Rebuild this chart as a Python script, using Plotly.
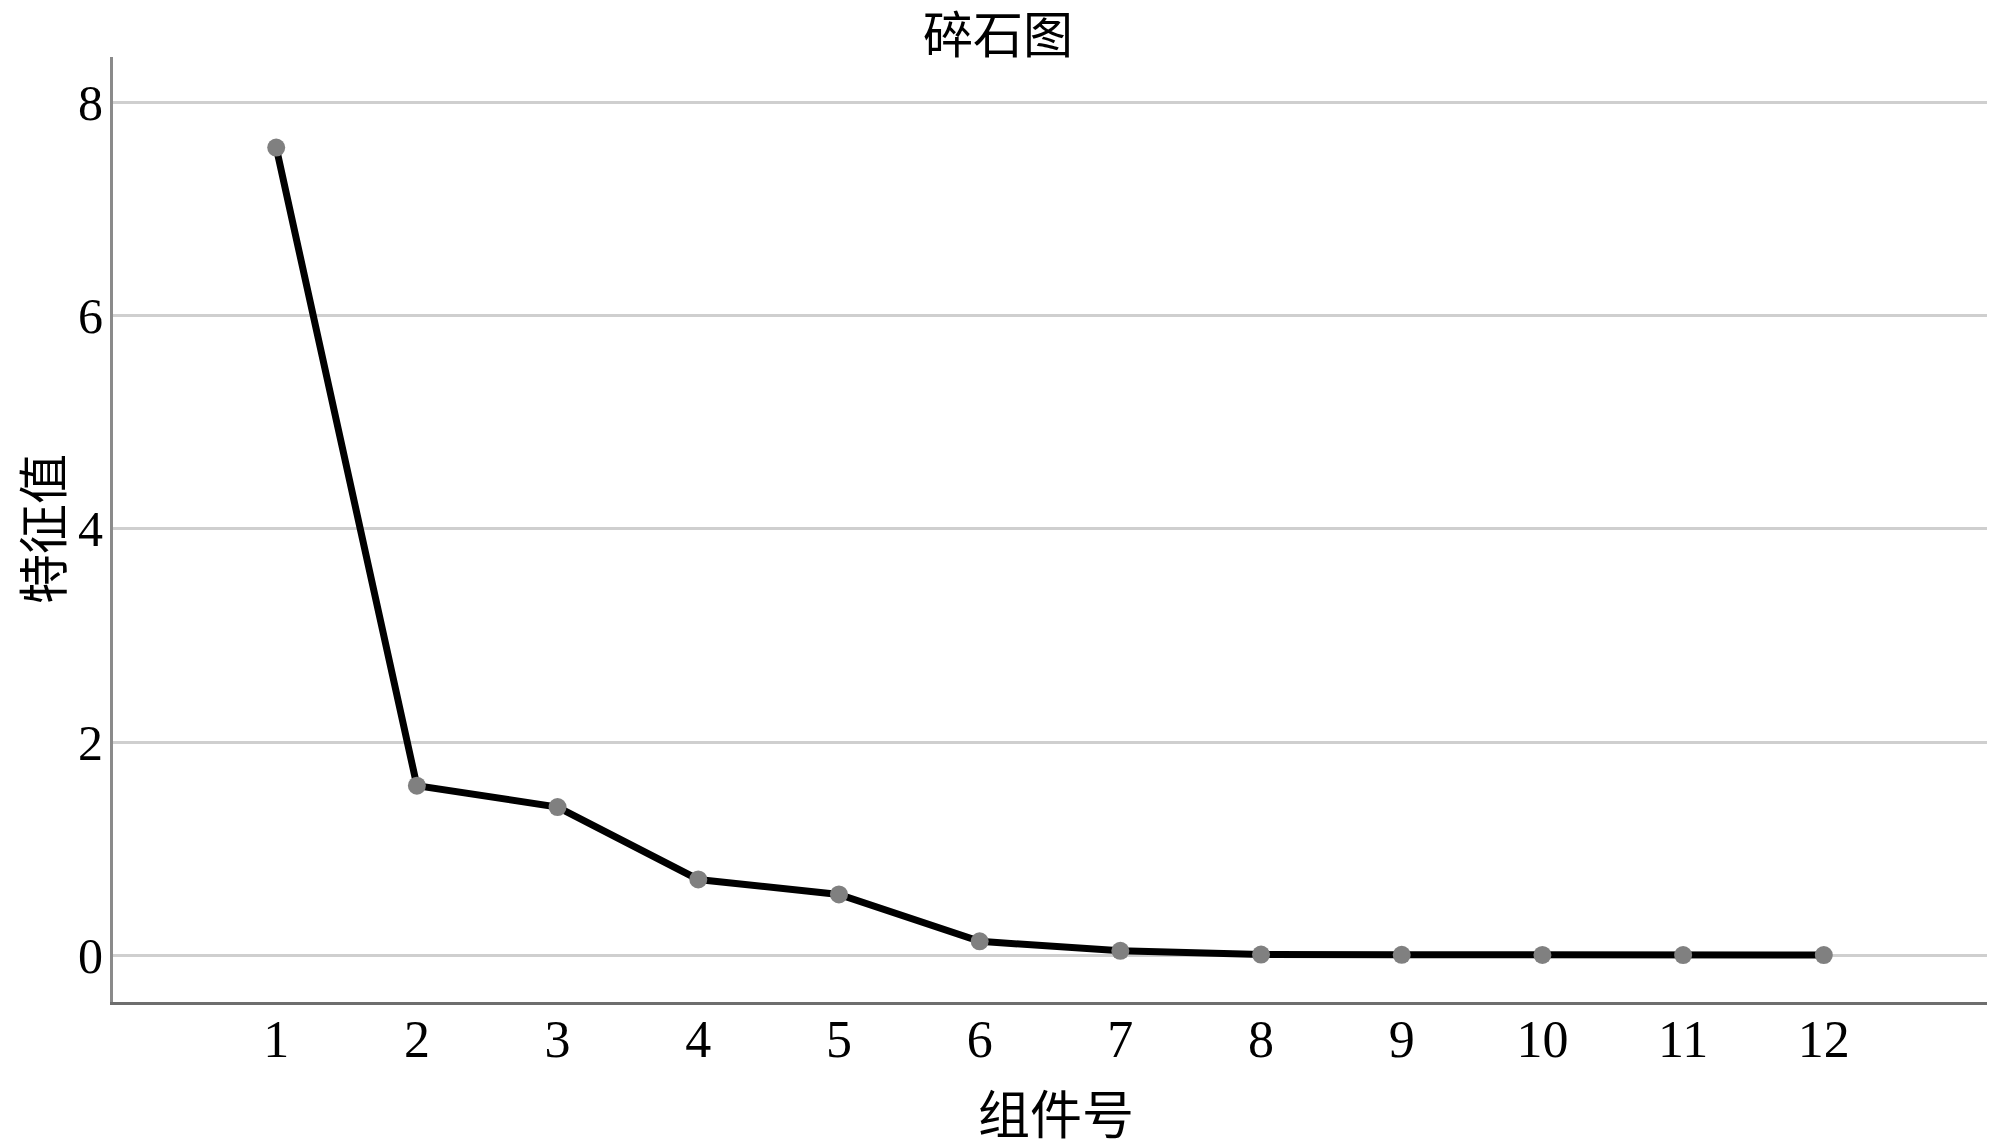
import plotly.graph_objects as go

component = [1, 2, 3, 4, 5, 6, 7, 8, 9, 10, 11, 12]
eigenvalue = [7.58, 1.59, 1.39, 0.71, 0.57, 0.13, 0.04, 0.005, 0.003, 0.002, 0.001, 0.001]
y_ticks = [0, 2, 4, 6, 8]

serif = "Liberation Serif, Times New Roman, serif"
cjk = "Noto Sans CJK SC"

fig = go.Figure()
fig.add_trace(go.Scatter(
    x=component,
    y=eigenvalue,
    mode='lines+markers',
    line=dict(color='#000000', width=7),
    marker=dict(color='#808080', size=18),
    showlegend=False
))

fig.update_xaxes(
    range=[-0.16, 13.16],
    tickvals=component,
    ticktext=[str(c) for c in component],
    tickfont=dict(family=serif, size=52, color='#000000'),
    ticks='',
    ticklabelstandoff=-10,
    showgrid=False,
    zeroline=False,
    showline=True,
    linecolor='#6e6e6e',
    linewidth=3,
    automargin=False
)

fig.update_yaxes(
    range=[-0.44, 8.43],
    tickvals=y_ticks,
    tickfont=dict(family=serif, size=50, color='#000000'),
    ticks='',
    ticklabelstandoff=-3,
    showgrid=True,
    gridcolor='#cfcfcf',
    gridwidth=3,
    zeroline=False,
    showline=True,
    linecolor='#8a8a8a',
    linewidth=3,
    automargin=False
)

# axis titles placed as annotations for exact positioning
fig.add_annotation(text='组件号', xref='paper', yref='paper', x=0.503, y=-0.1164,
                   xanchor='center', yanchor='middle', showarrow=False,
                   font=dict(family=cjk, size=52, color='#000000'))
fig.add_annotation(text='特征值', xref='paper', yref='paper', x=-0.039, y=0.5005,
                   xanchor='center', yanchor='middle', showarrow=False, textangle=-90,
                   font=dict(family=cjk, size=50, color='#000000'))

fig.update_layout(
    width=2000,
    height=1145,
    margin=dict(l=105, r=21, t=49, b=151),
    plot_bgcolor='#ffffff',
    paper_bgcolor='#ffffff',
    title=dict(
        text='碎石图',
        font=dict(family=cjk, size=50, color='#000000'),
        x=0.495, xanchor='center',
        y=0.976, yanchor='middle'
    )
)

fig.write_html("out.html")
